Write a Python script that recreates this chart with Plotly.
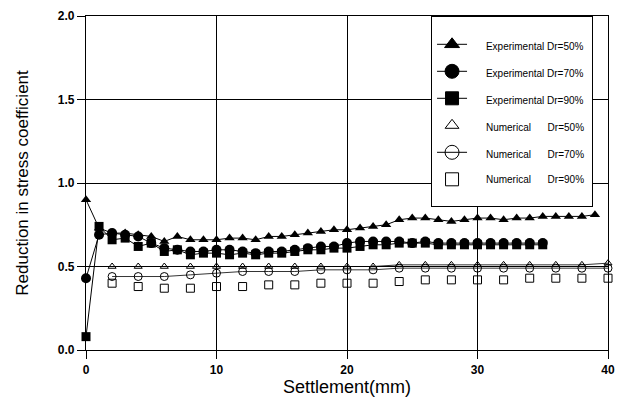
import plotly.graph_objects as go

# Experimental series, measured every 1 mm of settlement
exp_x = list(range(0, 40))
exp_50 = [0.90, 0.73, 0.70, 0.70, 0.69, 0.68, 0.65, 0.68, 0.66, 0.66,
          0.66, 0.67, 0.67, 0.66, 0.68, 0.68, 0.69, 0.70, 0.71, 0.72,
          0.72, 0.73, 0.74, 0.75, 0.78, 0.79, 0.79, 0.78, 0.77, 0.78,
          0.79, 0.79, 0.78, 0.79, 0.79, 0.80, 0.80, 0.80, 0.80, 0.81]

exp_x70 = list(range(0, 36))
exp_70 = [0.43, 0.69, 0.70, 0.69, 0.68, 0.64, 0.61, 0.60, 0.59, 0.59,
          0.60, 0.60, 0.59, 0.58, 0.59, 0.59, 0.60, 0.61, 0.62, 0.62,
          0.64, 0.65, 0.65, 0.65, 0.65, 0.64, 0.65, 0.64, 0.64, 0.64,
          0.64, 0.64, 0.64, 0.64, 0.64, 0.64]

exp_x90 = list(range(0, 36))
exp_90 = [0.08, 0.74, 0.66, 0.67, 0.62, 0.64, 0.59, 0.60, 0.57, 0.58,
          0.58, 0.57, 0.58, 0.57, 0.58, 0.58, 0.59, 0.60, 0.60, 0.61,
          0.61, 0.62, 0.63, 0.63, 0.64, 0.64, 0.64, 0.63, 0.63, 0.63,
          0.63, 0.63, 0.63, 0.63, 0.63, 0.63]

# Numerical series, every 2 mm
num_x = list(range(2, 41, 2))
num_50 = [0.50, 0.50, 0.50, 0.50, 0.50, 0.50, 0.50, 0.50, 0.50, 0.50,
          0.50, 0.51, 0.51, 0.51, 0.51, 0.51, 0.51, 0.51, 0.51, 0.52]
num_70 = [0.44, 0.44, 0.44, 0.45, 0.46, 0.47, 0.47, 0.47, 0.48, 0.48,
          0.48, 0.49, 0.49, 0.49, 0.49, 0.49, 0.49, 0.49, 0.49, 0.49]
num_90 = [0.40, 0.38, 0.37, 0.37, 0.38, 0.38, 0.39, 0.39, 0.40, 0.40,
          0.40, 0.41, 0.42, 0.42, 0.42, 0.42, 0.43, 0.43, 0.43, 0.43]

x_ticks = [0, 10, 20, 30, 40]
y_ticks = [0.0, 0.5, 1.0, 1.5, 2.0]
y_tick_text = ["0.0", "0.5", "1.0", "1.5", "2.0"]

NB = "\u00a0"
legend_names = [
    "Experimental Dr=50%",
    "Experimental Dr=70%",
    "Experimental Dr=90%",
    "Numerical" + NB * 6 + "Dr=50%",
    "Numerical" + NB * 6 + "Dr=70%",
    "Numerical" + NB * 6 + "Dr=90%",
]

fig = go.Figure()

line_thin = dict(color="black", width=1)

# data traces
fig.add_trace(go.Scatter(x=exp_x, y=exp_50, mode="lines+markers", line=line_thin,
                         marker=dict(symbol="triangle-up", size=9, color="black"),
                         showlegend=False, cliponaxis=False))
fig.add_trace(go.Scatter(x=exp_x70, y=exp_70, mode="lines+markers", line=line_thin,
                         marker=dict(symbol="circle", size=10, color="black"),
                         showlegend=False, cliponaxis=False))
fig.add_trace(go.Scatter(x=exp_x90, y=exp_90, mode="lines+markers", line=line_thin,
                         marker=dict(symbol="square", size=9, color="black"),
                         showlegend=False, cliponaxis=False))
fig.add_trace(go.Scatter(x=num_x, y=num_50, mode="lines+markers",
                         line=dict(color="black", width=0.8),
                         marker=dict(symbol="triangle-up-open", size=7, color="black",
                                     line=dict(width=1)),
                         showlegend=False, cliponaxis=False))
fig.add_trace(go.Scatter(x=num_x, y=num_70, mode="lines+markers",
                         line=dict(color="black", width=0.8),
                         marker=dict(symbol="circle-open", size=8, color="black",
                                     line=dict(width=1)),
                         showlegend=False, cliponaxis=False))
fig.add_trace(go.Scatter(x=num_x, y=num_90, mode="markers",
                         marker=dict(symbol="square-open", size=8, color="black",
                                     line=dict(width=1)),
                         showlegend=False, cliponaxis=False))

# legend entries
legend_styles = [
    ("lines+markers", "triangle-up", 13),
    ("lines+markers", "circle", 14),
    ("lines+markers", "square", 13),
    ("markers", "triangle-up-open", 12),
    ("lines+markers", "circle-open", 14),
    ("markers", "square-open", 13),
]
n_items = len(legend_names)
for i, (name, (mode, sym, sz)) in enumerate(zip(legend_names, legend_styles)):
    label = NB * 5 + name + NB
    if i == n_items - 1:
        label += "<br>" + NB  # extra space below the last entry
    fig.add_trace(go.Scatter(x=[None], y=[None], mode=mode,
                             name=label,
                             legendgroup="g%d" % i,
                             line=dict(color="black", width=1),
                             marker=dict(symbol=sym, size=sz, color="black",
                                         line=dict(width=1, color="black"))))

axis_common = dict(
    showgrid=True, gridcolor="black", gridwidth=1.3,
    showline=True, linecolor="black", linewidth=1.3, mirror=True,
    ticks="outside", ticklen=8, tickcolor="black", tickwidth=1.3,
    zeroline=False,
    tickfont=dict(family="Arial", size=12, color="black", weight="bold"),
)

fig.update_xaxes(range=[0, 40], tickvals=x_ticks,
                 title=dict(text="Settlement(mm)", font=dict(family="Arial", size=18, color="black"),
                            standoff=2),
                 **axis_common)
fig.update_yaxes(range=[0, 2], tickvals=y_ticks, ticktext=y_tick_text,
                 title=dict(text="Reduction in stress coefficient",
                            font=dict(family="Arial", size=17, color="black"),
                            standoff=24),
                 **axis_common)

fig.update_layout(
    width=623, height=401,
    margin=dict(l=86, r=15, t=16, b=51, autoexpand=False),
    paper_bgcolor="white", plot_bgcolor="white",
    showlegend=True,
    legend=dict(x=0.661, y=1.0, xanchor="left", yanchor="top",
                bgcolor="white", bordercolor="black", borderwidth=1,
                font=dict(family="Arial", size=10, color="black"),
                title=dict(text=NB, font=dict(size=11)),
                tracegroupgap=8, itemwidth=30, valign="top",
                traceorder="grouped"),
)

fig.write_html("out.html")
